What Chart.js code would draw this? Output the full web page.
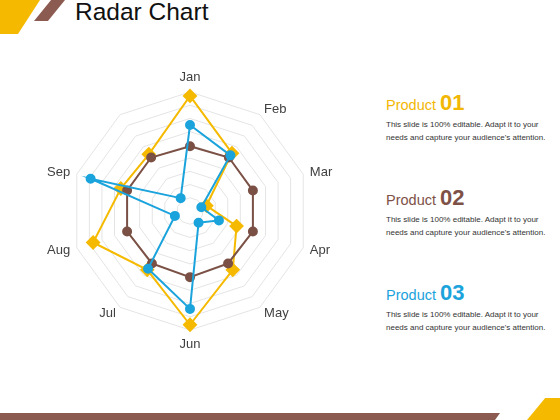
<!DOCTYPE html>
<html lang="en">
<head>
<meta charset="UTF-8">
<title>Radar Chart</title>
<script src="https://cdn.jsdelivr.net/npm/chart.js@4/dist/chart.umd.min.js"></script>
<style>
    body { margin: 0; width: 560px; height: 420px; position: relative; overflow: hidden; background: #fff;
           font-family: "Liberation Sans", Arial, sans-serif; }
    .deco { position: absolute; }
    #title { position: absolute; left: 75px; top: -2px; margin: 0; font-size: 24.5px; font-weight: normal; color: #111; }
    #chartBox { position: absolute; left: 46.5px; top: 68px; width: 287px; height: 287px; }
    .prod { position: absolute; left: 386px; width: 170px; }
    .prod h3 { margin: 0; font-weight: normal; font-size: 14.5px; line-height: 22px; }
    .prod h3 b { font-size: 22px; }
    .prod p { margin: 0; margin-top: 2px; font-size: 8px; line-height: 13px; color: #333; }
</style>
</head>
<body>
<div class="deco" style="left:0;top:0;width:40px;height:34px;background:#F5BA00;clip-path:polygon(0 0,100% 0,45% 100%,0 100%);"></div>
<div class="deco" style="left:34px;top:0;width:31px;height:21px;background:#8B5A50;clip-path:polygon(55% 0,100% 0,45% 100%,0 100%);"></div>
<h1 id="title">Radar Chart</h1>

<div id="chartBox"><canvas id="radar"></canvas></div>

<div class="prod" style="top:92px;">
    <h3 style="color:#F2B705;">Product <b>01</b></h3>
    <p>This slide is 100% editable. Adapt it to your<br>needs and capture your audience's attention.</p>
</div>
<div class="prod" style="top:187px;">
    <h3 style="color:#7E5147;">Product <b>02</b></h3>
    <p>This slide is 100% editable. Adapt it to your<br>needs and capture your audience's attention.</p>
</div>
<div class="prod" style="top:282px;">
    <h3 style="color:#1BA3DC;">Product <b>03</b></h3>
    <p>This slide is 100% editable. Adapt it to your<br>needs and capture your audience's attention.</p>
</div>

<div class="deco" style="left:0;top:413px;width:500px;height:7px;background:#8B5A50;clip-path:polygon(0 0,100% 0,99% 100%,0 100%);"></div>
<div class="deco" style="left:527px;top:398px;width:33px;height:22px;background:#F5BA00;clip-path:polygon(55% 0,100% 0,100% 100%,0 100%);"></div>

<script>
    // month labels (10th spoke has no label in the original)
    const labels = ['Jan', 'Feb', 'Mar', 'Apr', 'May', 'Jun', 'Jul', 'Aug', 'Sep', ''];
    const product01 = [87, 54, 13, 37, 55, 86, 55, 77, 55, 53];
    const product02 = [49, 50, 50, 50, 49, 50, 49, 50, 50, 50];
    const product03 = [65, 52, 9, 23, 11, 74, 54, 12, 79, 12];

    // center the side labels vertically on their spoke, like the slide does
    function centerLabels(scale) {
        const items = scale._pointLabelItems || [];
        const n = items.length;
        items.forEach(function (item, i) {
            const deg = i * 360 / n;
            const h = item.bottom - item.top;
            let dy = 0;
            if (deg > 270 || (deg > 0 && deg < 90)) dy = h / 2;
            else if (deg > 90 && deg < 270 && deg !== 180) dy = -h / 2;
            item.y += dy;
            item.top += dy;
            item.bottom += dy;
        });
    }

    const ctx = document.getElementById('radar').getContext('2d');
    const radar = new Chart(ctx, {
        type: 'radar',
        data: {
            labels: labels,
            datasets: [{
                label: 'Product 01',
                data: product01,
                borderColor: '#F5BA00',
                backgroundColor: 'transparent',
                borderWidth: 2,
                pointStyle: 'rectRot',
                pointRadius: 6,
                pointBackgroundColor: '#F5BA00',
                pointBorderColor: '#F5BA00',
                order: 3
            }, {
                label: 'Product 02',
                data: product02,
                borderColor: '#7B5045',
                backgroundColor: 'transparent',
                borderWidth: 2,
                pointRadius: 4,
                pointBackgroundColor: '#7B5045',
                pointBorderColor: '#7B5045',
                order: 2
            }, {
                label: 'Product 03',
                data: product03,
                borderColor: '#1BA3DC',
                backgroundColor: 'transparent',
                borderWidth: 2,
                pointRadius: 4,
                pointBackgroundColor: '#1BA3DC',
                pointBorderColor: '#1BA3DC',
                order: 1
            }]
        },
        options: {
            responsive: true,
            maintainAspectRatio: false,
            animation: false,
            plugins: { legend: { display: false }, tooltip: { enabled: false } },
            elements: { line: { tension: 0 } },
            scales: {
                r: {
                    min: 0,
                    max: 90,
                    ticks: { stepSize: 10, display: false },
                    angleLines: { display: false },
                    grid: { color: '#e4e4e4', lineWidth: 1 },
                    pointLabels: {
                        color: '#404040',
                        padding: 7,
                        font: { family: 'Liberation Sans', size: 13 }
                    },
                    afterFit: centerLabels
                }
            }
        }
    });
</script>
</body>
</html>
